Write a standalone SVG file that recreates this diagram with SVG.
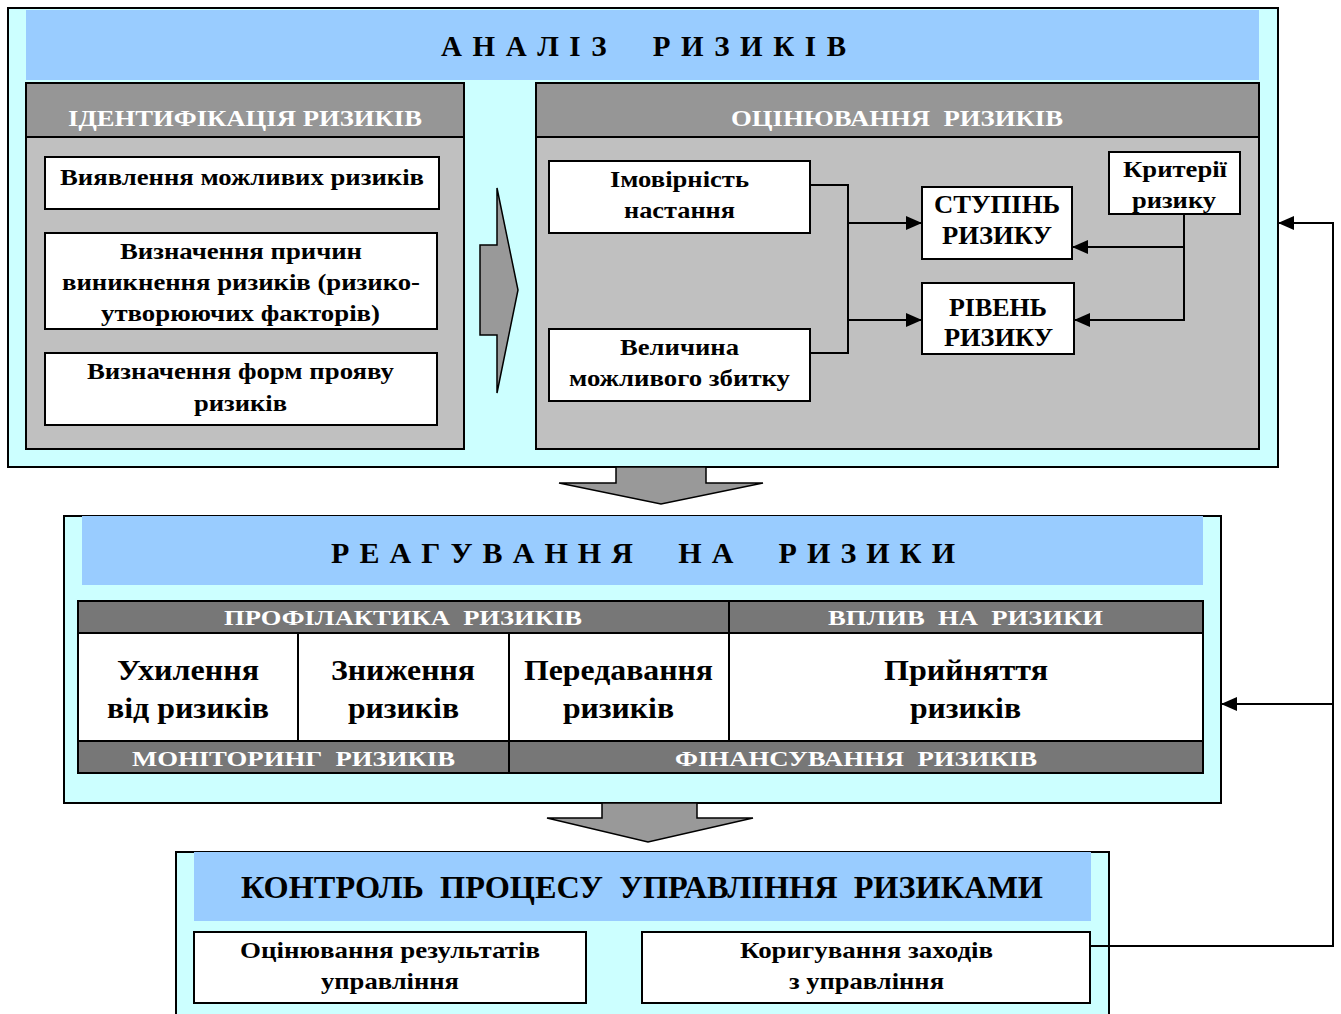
<svg xmlns="http://www.w3.org/2000/svg" width="1341" height="1014" viewBox="0 0 1341 1014">
<style>
.t{font-family:"Liberation Serif","Times New Roman",serif;font-weight:bold;fill:#000;white-space:pre}
.w{font-family:"Liberation Serif","Times New Roman",serif;font-weight:bold;fill:#fff;white-space:pre}
.frame{fill:#CCFFFF;stroke:#000;stroke-width:2}
.band{fill:#99CCFF}
.panel{fill:#C0C0C0;stroke:#000;stroke-width:2}
.hdr{fill:#969696;stroke:#000;stroke-width:2}
.box{fill:#fff;stroke:#000;stroke-width:2}
.dk{fill:#777777;stroke:#000;stroke-width:2}
.arr{fill:#999999;stroke:#000;stroke-width:1.5}
.ln{fill:none;stroke:#000;stroke-width:2}
</style>
<defs>
<marker id="ah" markerUnits="userSpaceOnUse" markerWidth="16" markerHeight="14" refX="15" refY="7" orient="auto">
<path d="M0,0 L16,7 L0,14 Z" fill="#000"/>
</marker>
</defs>

<g id="analysis">
<rect class="frame" x="8" y="8" width="1270" height="459"/>
<rect class="band" x="26" y="10" width="1233" height="70"/>
<text class="t" x="441" y="56" font-size="29" textLength="405" lengthAdjust="spacing" xml:space="preserve">А Н А Л І З     Р И З И К І В</text>
</g>

<g id="identification">
<rect class="panel" x="26" y="83" width="438" height="366"/>
<rect class="hdr" x="26" y="83" width="438" height="54"/>
<text class="w" x="68" y="126" font-size="24" textLength="354" lengthAdjust="spacingAndGlyphs">ІДЕНТИФІКАЦІЯ РИЗИКІВ</text>
</g>

<g id="id-box1">
<rect class="box" x="45" y="157" width="394" height="52"/>
<text class="t" x="60" y="185" font-size="24" textLength="364" lengthAdjust="spacingAndGlyphs">Виявлення можливих ризиків</text>
</g>
<g id="id-box2">
<rect class="box" x="45" y="233" width="392" height="96"/>
<text class="t" x="120" y="259" font-size="24" textLength="242" lengthAdjust="spacingAndGlyphs">Визначення причин</text>
<text class="t" x="62" y="290" font-size="24" textLength="358" lengthAdjust="spacingAndGlyphs">виникнення ризиків (ризико-</text>
<text class="t" x="101" y="321" font-size="24" textLength="279" lengthAdjust="spacingAndGlyphs">утворюючих факторів)</text>
</g>
<g id="id-box3">
<rect class="box" x="45" y="353" width="392" height="72"/>
<text class="t" x="87" y="379" font-size="24" textLength="307" lengthAdjust="spacingAndGlyphs">Визначення форм прояву</text>
<text class="t" x="194" y="411" font-size="24" textLength="93" lengthAdjust="spacingAndGlyphs">ризиків</text>
</g>

<g id="arrow-right">
<polygon class="arr" points="480,245 497,245 497,188 518,290 497,393 497,335 480,335"/>
</g>

<g id="evaluation">
<rect class="panel" x="536" y="83" width="723" height="366"/>
<rect class="hdr" x="536" y="83" width="723" height="54"/>
<text class="w" x="731" y="126" font-size="24" textLength="332" lengthAdjust="spacingAndGlyphs" xml:space="preserve">ОЦІНЮВАННЯ  РИЗИКІВ</text>
</g>

<g id="probability">
<rect class="box" x="549" y="161" width="261" height="72"/>
<text class="t" x="610" y="187" font-size="24" textLength="139" lengthAdjust="spacingAndGlyphs">Імовірність</text>
<text class="t" x="624" y="218" font-size="24" textLength="111" lengthAdjust="spacingAndGlyphs">настання</text>
</g>
<g id="damage">
<rect class="box" x="549" y="329" width="261" height="72"/>
<text class="t" x="620" y="355" font-size="24" textLength="119" lengthAdjust="spacingAndGlyphs">Величина</text>
<text class="t" x="569" y="386" font-size="24" textLength="221" lengthAdjust="spacingAndGlyphs">можливого збитку</text>
</g>
<g id="degree">
<rect class="box" x="922" y="187" width="150" height="72"/>
<text class="t" x="934" y="213" font-size="25" textLength="126" lengthAdjust="spacingAndGlyphs">СТУПІНЬ</text>
<text class="t" x="942" y="244" font-size="25" textLength="110" lengthAdjust="spacingAndGlyphs">РИЗИКУ</text>
</g>
<g id="level">
<rect class="box" x="922" y="283" width="152" height="71"/>
<text class="t" x="949" y="316" font-size="25" textLength="98" lengthAdjust="spacingAndGlyphs">РІВЕНЬ</text>
<text class="t" x="944" y="346" font-size="25" textLength="109" lengthAdjust="spacingAndGlyphs">РИЗИКУ</text>
</g>
<g id="criteria">
<rect class="box" x="1109" y="152" width="131" height="62"/>
<text class="t" x="1123" y="177" font-size="24" textLength="104" lengthAdjust="spacingAndGlyphs">Критерії</text>
<text class="t" x="1132" y="208" font-size="24" textLength="84" lengthAdjust="spacingAndGlyphs">ризику</text>
</g>

<g id="arrow-down-1">
<polygon class="arr" points="616,467 706,467 706,483 763,483 661,504 559,483 616,483"/>
</g>

<g id="response">
<rect class="frame" x="64" y="516" width="1157" height="287"/>
<rect class="band" x="82" y="516" width="1121" height="69"/>
<text class="t" x="331" y="563" font-size="30" textLength="624" lengthAdjust="spacing" xml:space="preserve">Р Е А Г У В А Н Н Я     Н А     Р И З И К И</text>
</g>

<g id="response-table">
<rect class="dk" x="78" y="601" width="651" height="32"/>
<rect class="dk" x="729" y="601" width="474" height="32"/>
<rect class="box" x="78" y="633" width="220" height="108"/>
<rect class="box" x="298" y="633" width="211" height="108"/>
<rect class="box" x="509" y="633" width="220" height="108"/>
<rect class="box" x="729" y="633" width="474" height="108"/>
<rect class="dk" x="78" y="741" width="431" height="32"/>
<rect class="dk" x="509" y="741" width="694" height="32"/>
<text class="w" x="224" y="625" font-size="22" textLength="358" lengthAdjust="spacingAndGlyphs" xml:space="preserve">ПРОФІЛАКТИКА  РИЗИКІВ</text>
<text class="w" x="828" y="625" font-size="22" textLength="275" lengthAdjust="spacingAndGlyphs" xml:space="preserve">ВПЛИВ  НА  РИЗИКИ</text>
<text class="w" x="132" y="766" font-size="22" textLength="323" lengthAdjust="spacingAndGlyphs" xml:space="preserve">МОНІТОРИНГ  РИЗИКІВ</text>
<text class="w" x="675" y="766" font-size="22" textLength="362" lengthAdjust="spacingAndGlyphs" xml:space="preserve">ФІНАНСУВАННЯ  РИЗИКІВ</text>
<text class="t" x="117" y="680" font-size="30" textLength="142" lengthAdjust="spacingAndGlyphs">Ухилення</text>
<text class="t" x="107" y="718" font-size="30" textLength="162" lengthAdjust="spacingAndGlyphs">від ризиків</text>
<text class="t" x="331" y="680" font-size="30" textLength="144" lengthAdjust="spacingAndGlyphs">Зниження</text>
<text class="t" x="348" y="718" font-size="30" textLength="111" lengthAdjust="spacingAndGlyphs">ризиків</text>
<text class="t" x="524" y="680" font-size="30" textLength="189" lengthAdjust="spacingAndGlyphs">Передавання</text>
<text class="t" x="563" y="718" font-size="30" textLength="111" lengthAdjust="spacingAndGlyphs">ризиків</text>
<text class="t" x="884" y="680" font-size="30" textLength="164" lengthAdjust="spacingAndGlyphs">Прийняття</text>
<text class="t" x="910" y="718" font-size="30" textLength="111" lengthAdjust="spacingAndGlyphs">ризиків</text>
</g>

<g id="arrow-down-2">
<polygon class="arr" points="602,803 697,803 697,818 753,818 648,842 547,818 602,818"/>
</g>

<g id="control">
<rect class="frame" x="176" y="852" width="933" height="170"/>
<rect class="band" x="194" y="852" width="897" height="69"/>
<text class="t" x="241" y="898" font-size="31" textLength="802" lengthAdjust="spacingAndGlyphs" xml:space="preserve">КОНТРОЛЬ  ПРОЦЕСУ  УПРАВЛІННЯ  РИЗИКАМИ</text>
</g>
<g id="results">
<rect class="box" x="194" y="932" width="392" height="71"/>
<text class="t" x="240" y="958" font-size="24" textLength="300" lengthAdjust="spacingAndGlyphs">Оцінювання результатів</text>
<text class="t" x="321" y="989" font-size="24" textLength="138" lengthAdjust="spacingAndGlyphs">управління</text>
</g>
<g id="correction">
<rect class="box" x="642" y="932" width="448" height="71"/>
<text class="t" x="740" y="958" font-size="24" textLength="253" lengthAdjust="spacingAndGlyphs">Коригування заходів</text>
<text class="t" x="789" y="989" font-size="24" textLength="155" lengthAdjust="spacingAndGlyphs">з управління</text>
</g>

<g id="connectors">
<path class="ln" d="M810,185 H848 V353 H810"/>
<path class="ln" d="M848,223 H921" marker-end="url(#ah)"/>
<path class="ln" d="M848,320 H921" marker-end="url(#ah)"/>
<path class="ln" d="M1184,214 V320 H1075" marker-end="url(#ah)"/>
<path class="ln" d="M1184,247 H1073" marker-end="url(#ah)"/>
<path class="ln" d="M1090,946 H1333 V223 H1279" marker-end="url(#ah)"/>
<path class="ln" d="M1333,704 H1222" marker-end="url(#ah)"/>
</g>
</svg>
